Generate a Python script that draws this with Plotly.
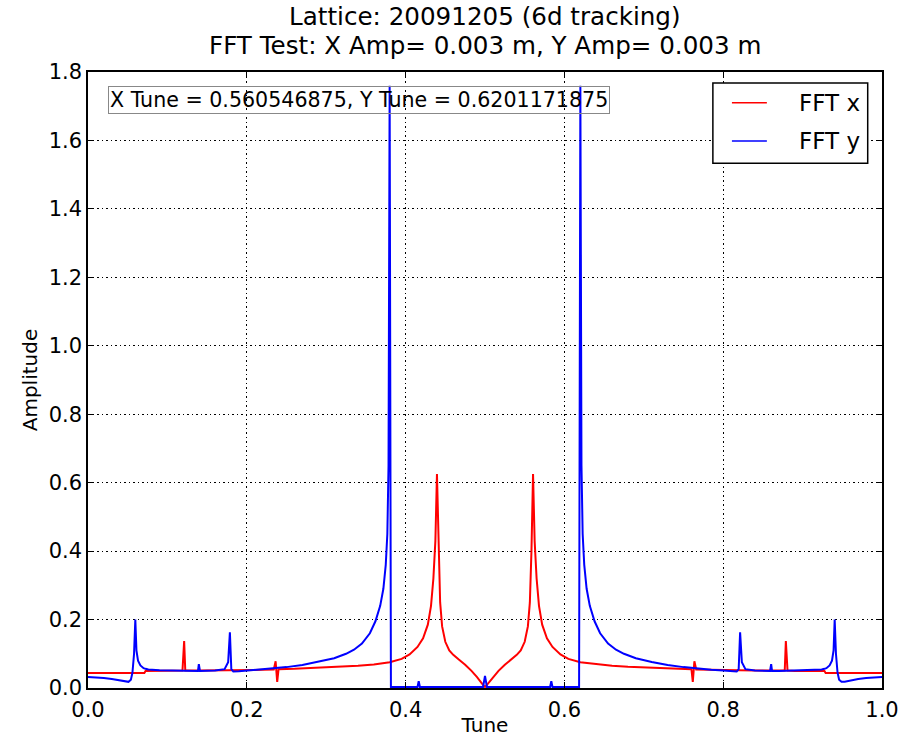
import plotly.graph_objects as go

# ---------------- data ----------------
tune_x = [0.000, 0.020, 0.040, 0.060, 0.071, 0.0725, 0.090, 0.110, 0.119, 0.1211, 0.1225,
          0.140, 0.160, 0.180, 0.200, 0.220, 0.234, 0.2363, 0.2383, 0.2400, 0.260, 0.280,
          0.300, 0.320, 0.340, 0.360, 0.380, 0.395, 0.405, 0.415, 0.422, 0.428, 0.432,
          0.435, 0.4375, 0.4395, 0.4415, 0.4435, 0.446, 0.450, 0.455, 0.460, 0.467, 0.475,
          0.483, 0.490, 0.4965, 0.500, 0.5035, 0.510, 0.517, 0.525, 0.533, 0.540, 0.545,
          0.550, 0.554, 0.5565, 0.5585, 0.5605, 0.5625, 0.565, 0.568, 0.572, 0.578, 0.585,
          0.595, 0.605, 0.620, 0.640, 0.660, 0.680, 0.700, 0.720, 0.740, 0.760, 0.7617,
          0.7637, 0.766, 0.780, 0.800, 0.820, 0.840, 0.860, 0.8775, 0.8789, 0.881, 0.890,
          0.910, 0.9275, 0.929, 0.940, 0.960, 0.980, 1.000]
amp_x = [0.044, 0.044, 0.044, 0.044, 0.044, 0.050, 0.050, 0.050, 0.051, 0.137, 0.051,
         0.051, 0.051, 0.052, 0.052, 0.053, 0.054, 0.078, 0.018, 0.055, 0.056, 0.058,
         0.060, 0.062, 0.065, 0.069, 0.075, 0.085, 0.098, 0.120, 0.145, 0.185, 0.240,
         0.320, 0.430, 0.625, 0.400, 0.250, 0.180, 0.135, 0.110, 0.097, 0.083, 0.068,
         0.050, 0.032, 0.012, 0.003, 0.012, 0.032, 0.050, 0.068, 0.083, 0.097, 0.110,
         0.135, 0.180, 0.250, 0.400, 0.625, 0.430, 0.320, 0.240, 0.185, 0.145, 0.120,
         0.098, 0.085, 0.075, 0.069, 0.065, 0.062, 0.060, 0.058, 0.056, 0.055, 0.018,
         0.078, 0.054, 0.053, 0.052, 0.052, 0.051, 0.051, 0.051, 0.137, 0.051, 0.050,
         0.050, 0.050, 0.044, 0.044, 0.044, 0.044, 0.044]

tune_y = [0.000, 0.010, 0.020, 0.030, 0.040, 0.047, 0.051, 0.054, 0.056, 0.058, 0.0596,
          0.061, 0.063, 0.066, 0.070, 0.0725, 0.076, 0.090, 0.110, 0.130, 0.1385, 0.1396,
          0.141, 0.160, 0.172, 0.1765, 0.1787, 0.1805, 0.183, 0.190, 0.200, 0.215, 0.230,
          0.250, 0.270, 0.290, 0.310, 0.325, 0.335, 0.345, 0.355, 0.362, 0.368, 0.372,
          0.375, 0.377, 0.3785, 0.3799, 0.3815, 0.400, 0.415, 0.4165, 0.418, 0.450,
          0.4975, 0.499, 0.500, 0.501, 0.5025, 0.550, 0.582, 0.5835, 0.585, 0.600, 0.6185,
          0.6201, 0.6215, 0.623, 0.625, 0.628, 0.632, 0.638, 0.645, 0.655, 0.665, 0.675,
          0.690, 0.710, 0.730, 0.750, 0.770, 0.785, 0.800, 0.810, 0.817, 0.8195, 0.8213,
          0.8235, 0.828, 0.840, 0.859, 0.8604, 0.8615, 0.870, 0.890, 0.910, 0.924, 0.9275,
          0.930, 0.934, 0.937, 0.939, 0.9404, 0.942, 0.944, 0.946, 0.949, 0.953, 0.960,
          0.970, 0.980, 0.990, 1.000]
amp_y = [0.032, 0.031, 0.029, 0.026, 0.022, 0.018, 0.018, 0.024, 0.045, 0.100, 0.200,
         0.110, 0.080, 0.066, 0.058, 0.056, 0.054, 0.052, 0.051, 0.050, 0.050, 0.070,
         0.050, 0.051, 0.055, 0.075, 0.163, 0.055, 0.048, 0.049, 0.051, 0.053, 0.056,
         0.061, 0.067, 0.076, 0.087, 0.100, 0.112, 0.130, 0.160, 0.195, 0.240, 0.290,
         0.360, 0.450, 0.650, 1.760, 0.003, 0.003, 0.003, 0.020, 0.003, 0.003,
         0.003, 0.022, 0.035, 0.022, 0.003, 0.003, 0.003, 0.020, 0.003, 0.003, 0.003,
         1.760, 0.650, 0.450, 0.360, 0.290, 0.240, 0.195, 0.160, 0.130, 0.112, 0.100,
         0.087, 0.076, 0.067, 0.061, 0.056, 0.053, 0.051, 0.049, 0.048, 0.055, 0.163,
         0.075, 0.055, 0.051, 0.050, 0.070, 0.050, 0.050, 0.051, 0.052, 0.054, 0.056,
         0.058, 0.066, 0.080, 0.110, 0.200, 0.100, 0.045, 0.024, 0.018, 0.018, 0.022,
         0.026, 0.029, 0.031, 0.032]

series_names = ["FFT x", "FFT y"]
series_colors = ["#ff0000", "#0000ff"]
title_lines = ["Lattice: 20091205 (6d tracking)", "FFT Test: X Amp= 0.003 m, Y Amp= 0.003 m"]
tune_text = "X Tune = 0.560546875, Y Tune = 0.6201171875"
x_ticks = [0.0, 0.2, 0.4, 0.6, 0.8, 1.0]
y_ticks = [0.0, 0.2, 0.4, 0.6, 0.8, 1.0, 1.2, 1.4, 1.6, 1.8]

FONT = "DejaVu Sans"

fig = go.Figure()
fig.add_trace(go.Scatter(x=tune_x, y=amp_x, mode="lines", name=series_names[0],
                         line=dict(color=series_colors[0], width=2), showlegend=False))
fig.add_trace(go.Scatter(x=tune_y, y=amp_y, mode="lines", name=series_names[1],
                         line=dict(color=series_colors[1], width=2), showlegend=False))

axis_common = dict(
    showline=True, linecolor="black", linewidth=1.5, mirror="ticks",
    ticks="inside", ticklen=6, tickcolor="black", tickwidth=1,
    showgrid=True, gridcolor="black", gridwidth=1, griddash="1.5px,3px",
    zeroline=False, tickformat=".1f", automargin=False,
    tickfont=dict(family=FONT, size=21, color="black"),
)

fig.update_xaxes(range=[0, 1], tickvals=x_ticks, ticklabelstandoff=2,
                 title=dict(text="Tune", font=dict(family=FONT, size=20, color="black"), standoff=2),
                 **axis_common)
fig.update_yaxes(range=[0, 1.8], tickvals=y_ticks,
                 title=dict(text="Amplitude", font=dict(family=FONT, size=20, color="black"), standoff=6),
                 **axis_common)

fig.add_annotation(x=0.5, y=1.0893, xref="paper", yref="paper", text=title_lines[0],
                   showarrow=False, xanchor="center", yanchor="middle",
                   font=dict(family=FONT, size=24.6, color="black"))
fig.add_annotation(x=0.5, y=1.0438, xref="paper", yref="paper", text=title_lines[1],
                   showarrow=False, xanchor="center", yanchor="middle",
                   font=dict(family=FONT, size=24.6, color="black"))
fig.add_annotation(x=0.025, y=1.718, xref="x", yref="y", text=tune_text,
                   showarrow=False, xanchor="left", yanchor="middle",
                   bordercolor="#888888", borderwidth=1, borderpad=1,
                   font=dict(family=FONT, size=20.6, color="black"))

# legend box drawn in paper coordinates
fig.add_shape(type="rect", xref="paper", yref="paper", x0=0.787, x1=0.982, y0=0.852, y1=0.982,
              line=dict(color="black", width=1.5), fillcolor="white", layer="above")
legend_rows = [0.950, 0.888]
for name, color, ly in zip(series_names, series_colors, legend_rows):
    fig.add_shape(type="line", xref="paper", yref="paper", x0=0.811, x1=0.855, y0=ly, y1=ly,
                  line=dict(color=color, width=1.5), layer="above")
    fig.add_annotation(x=0.893, y=ly, xref="paper", yref="paper", text=name, showarrow=False,
                       xanchor="left", yanchor="middle",
                       font=dict(family=FONT, size=23, color="black"))

fig.update_layout(
    width=902, height=737,
    margin=dict(l=88, r=20, t=72, b=49),
    paper_bgcolor="white", plot_bgcolor="white",
    font=dict(family=FONT, color="black"),
    showlegend=False,
)

fig.write_html("out.html")
